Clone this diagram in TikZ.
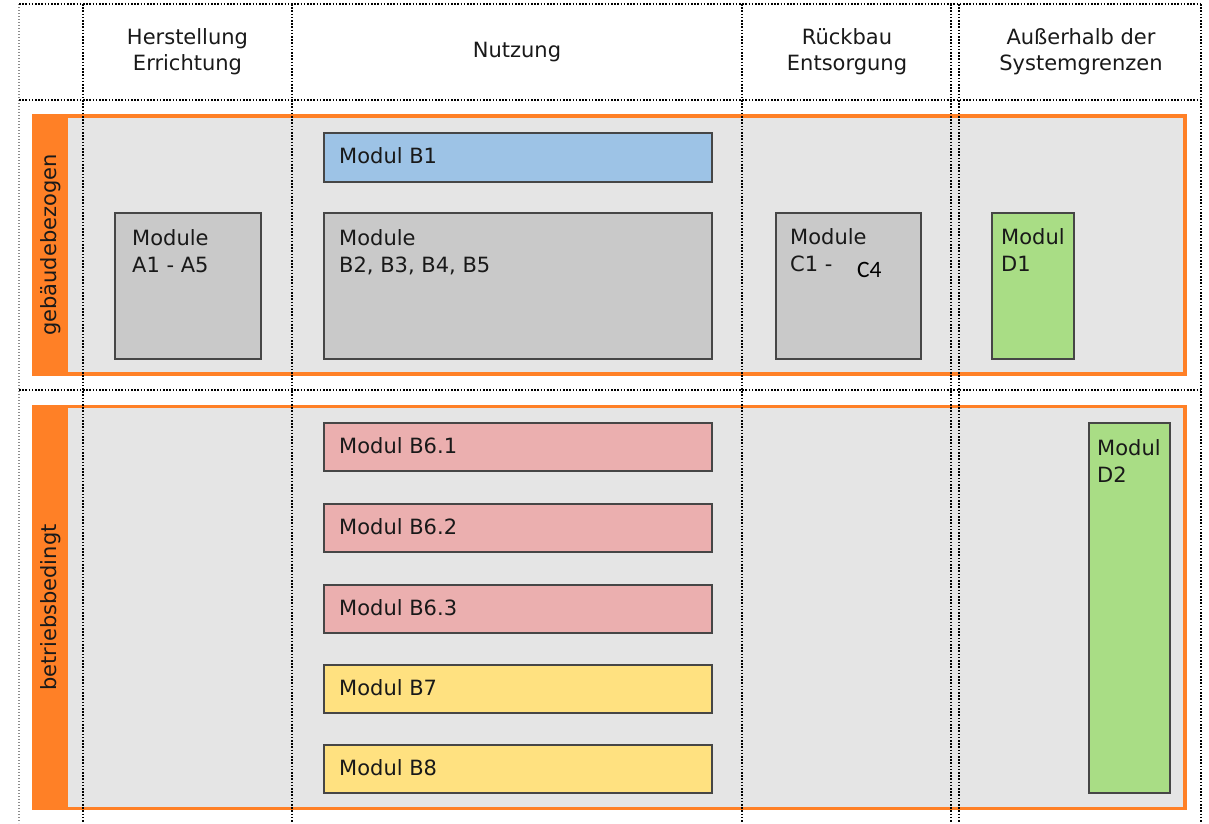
\documentclass[tikz,border=0pt]{standalone}
\usepackage{fontspec}
\setmainfont{DejaVu Sans}
\newfontfamily\calibfont{Carlito}
\definecolor{barorange}{RGB}{255,128,38}
\definecolor{panelgray}{RGB}{229,229,229}
\definecolor{boxline}{RGB}{70,70,70}
\definecolor{txt}{RGB}{25,25,25}
\definecolor{modgray}{RGB}{201,201,201}
\definecolor{modblue}{RGB}{157,195,230}
\definecolor{modpink}{RGB}{235,175,175}
\definecolor{modyellow}{RGB}{255,225,128}
\definecolor{modgreen}{RGB}{169,221,133}
\tikzset{
  panel/.style={draw=barorange, line width=3.5pt, fill=panelgray},
  sidebar/.style={fill=barorange},
  gridline/.style={line width=2.2pt, dash pattern=on 1.6pt off 1.6pt, black},
  gridfaint/.style={line width=1.4pt, dash pattern=on 1.2pt off 1.8pt, black!45},
  modbox/.style={draw=boxline, line width=2pt, anchor=north west, inner sep=0pt},
  modtext/.style={anchor=base west, align=left, inner sep=0pt, text=txt,
    font=\fontsize{21}{27}\selectfont},
  headtext/.style={anchor=base, align=center, inner sep=0pt, text=txt,
    font=\fontsize{21}{26}\selectfont},
  sidetext/.style={rotate=90, inner sep=0pt, text=txt,
    font=\fontsize{21}{26}\selectfont}
}
\begin{document}
\begin{tikzpicture}[x=1pt,y=-1pt]
\useasboundingbox (0,0) rectangle (1209,823);
\fill[white] (0,0) rectangle (1209,823);

% row panels with orange side bars
\draw[panel] (33.5,116) rectangle (1185,374);
\fill[sidebar] (31.75,114.25) rectangle (68,375.75);
\draw[panel] (33.5,406.5) rectangle (1185,808.5);
\fill[sidebar] (31.75,404.75) rectangle (68,810.25);

\node[sidetext] (rowA) at (50.5,245) {gebäudebezogen};
\node[sidetext] (rowB) at (50.5,607.5) {betriebsbedingt};

% dotted grid
\draw[gridfaint] (19,4) -- (19,823);
\draw[gridline] (19,4) -- (1201,4);
\draw[gridline] (19,100) -- (1201,100);
\draw[gridline] (19,390) -- (1201,390);
\foreach \gx in {83,292,742,951,959,1201}
  \draw[gridline] (\gx,4) -- (\gx,823);

% column headings (anchored at the baseline of the last line)
\node[headtext] (hA) at (187.5,70) {Herstellung\\Errichtung};
\node[headtext] (hB) at (517,57) {Nutzung};
\node[headtext] (hC) at (847,70) {Rückbau\\Entsorgung};
\node[headtext] (hD) at (1081,70) {Außerhalb der\\Systemgrenzen};

% modules, building related
\node[modbox, fill=modblue, minimum width=388, minimum height=49] (b1) at (323,132) {};
\node[modtext] (b1t) at (339,163) {Modul B1};
\node[modbox, fill=modgray, minimum width=146, minimum height=146] (a) at (114,212) {};
\node[modtext] (at) at (132,272) {Module\\A1 - A5};
\node[modbox, fill=modgray, minimum width=388, minimum height=146] (b25) at (323,212) {};
\node[modtext] (b25t) at (339,272) {Module\\B2, B3, B4, B5};
\node[modbox, fill=modgray, minimum width=145, minimum height=146] (c) at (775,212) {};
\node[modtext] (ct) at (790,271) {Module\\C1 -};
\node[anchor=base west, inner sep=0pt, font=\calibfont\fontsize{23.5}{26}\selectfont] (c4) at (857,277) {C4};
\node[modbox, fill=modgreen, minimum width=82, minimum height=146] (d1) at (991,212) {};
\node[modtext] (d1t) at (1001,271) {Modul\\D1};

% modules, operation related
\node[modbox, fill=modpink, minimum width=388, minimum height=48] (b61) at (323,422) {};
\node[modtext] (b61t) at (339,453) {Modul B6.1};
\node[modbox, fill=modpink, minimum width=388, minimum height=48] (b62) at (323,503) {};
\node[modtext] (b62t) at (339,534) {Modul B6.2};
\node[modbox, fill=modpink, minimum width=388, minimum height=48] (b63) at (323,584) {};
\node[modtext] (b63t) at (339,615) {Modul B6.3};
\node[modbox, fill=modyellow, minimum width=388, minimum height=48] (b7) at (323,664) {};
\node[modtext] (b7t) at (339,695) {Modul B7};
\node[modbox, fill=modyellow, minimum width=388, minimum height=48] (b8) at (323,744) {};
\node[modtext] (b8t) at (339,775) {Modul B8};
\node[modbox, fill=modgreen, minimum width=81, minimum height=370] (d2) at (1088,422) {};
\node[modtext] (d2t) at (1097,482) {Modul\\D2};
\end{tikzpicture}
\end{document}
